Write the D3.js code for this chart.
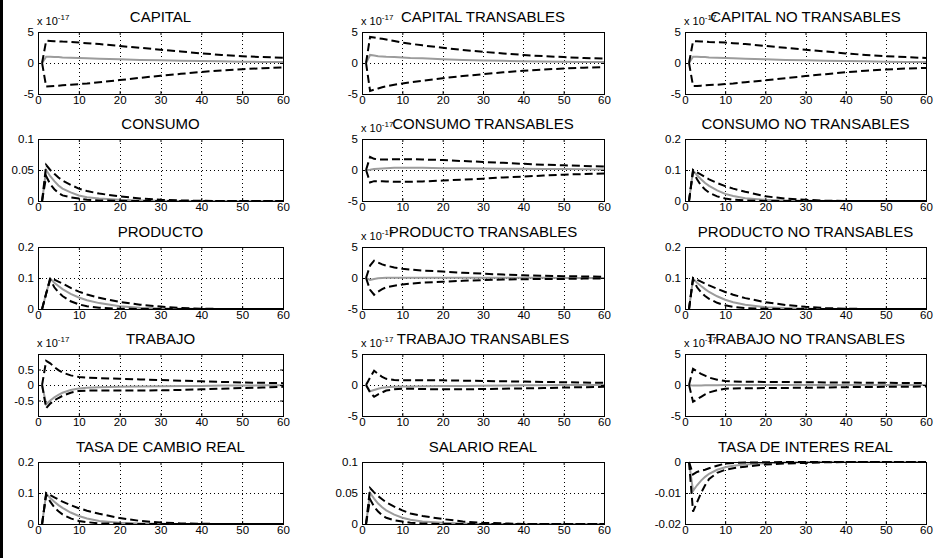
<!DOCTYPE html>
<html>
<head>
<meta charset="utf-8">
<script src="https://cdn.jsdelivr.net/npm/d3@7"></script>
<style>
  body { margin: 0; background: #fff; }
  svg { display: block; }
  text { font-family: "Liberation Sans", Arial, Helvetica, sans-serif; fill: #000; }
</style>
</head>
<body>
<div id="fig"></div>
<script>
// periods (x axis 0..60)
const periods = [1, 2, 3, 4, 5, 6, 8, 10, 12, 15, 20, 25, 30, 35, 40, 45, 50, 55, 60];
const xTicks = [0, 10, 20, 30, 40, 50, 60];

// CAPITAL (x 10^-17)
const capitalUp  = [0, 3.6, 3.55, 3.5, 3.5, 3.45, 3.4, 3.3, 3.2, 3.05, 2.75, 2.45, 2.15, 1.85, 1.55, 1.3, 1.1, 0.95, 0.85];
const capitalMid = [0, 1.0, 1.0, 0.95, 0.95, 0.9, 0.85, 0.8, 0.75, 0.7, 0.6, 0.5, 0.45, 0.38, 0.32, 0.27, 0.22, 0.18, 0.15];
const capitalLow = [0, -3.8, -3.75, -3.7, -3.65, -3.6, -3.5, -3.4, -3.3, -3.1, -2.75, -2.4, -2.05, -1.75, -1.45, -1.2, -1.0, -0.85, -0.7];
// CAPITAL TRANSABLES (x 10^-17)
const capTUp  = [0, 4.2, 4.1, 4.0, 3.9, 3.8, 3.55, 3.3, 3.1, 2.85, 2.45, 2.1, 1.8, 1.55, 1.3, 1.1, 0.95, 0.8, 0.7];
const capTMid = [0, 1.3, 1.2, 1.1, 1.05, 1.0, 0.95, 0.9, 0.8, 0.75, 0.6, 0.5, 0.42, 0.35, 0.3, 0.25, 0.2, 0.17, 0.15];
const capTLow = [0, -4.5, -4.3, -4.1, -3.9, -3.75, -3.5, -3.3, -3.1, -2.85, -2.45, -2.1, -1.8, -1.5, -1.25, -1.05, -0.9, -0.75, -0.65];
// CAPITAL NO TRANSABLES (x 10^-17)
const capNUp  = [0, 3.5, 3.5, 3.45, 3.45, 3.4, 3.35, 3.3, 3.2, 3.05, 2.75, 2.45, 2.15, 1.85, 1.55, 1.3, 1.1, 0.95, 0.8];
const capNMid = [0, 1.0, 1.0, 0.95, 0.95, 0.9, 0.85, 0.8, 0.75, 0.7, 0.6, 0.5, 0.45, 0.38, 0.32, 0.27, 0.22, 0.18, 0.15];
const capNLow = [0, -3.7, -3.7, -3.65, -3.6, -3.55, -3.5, -3.4, -3.3, -3.1, -2.8, -2.45, -2.1, -1.8, -1.5, -1.25, -1.05, -0.9, -0.8];

// CONSUMO
const consUp  = [0, 0.058, 0.05, 0.044, 0.038, 0.033, 0.026, 0.02, 0.016, 0.012, 0.0075, 0.004, 0.002, 0.001, 0.0003, 0, 0, 0, 0];
const consMid = [0, 0.05, 0.04, 0.032, 0.025, 0.02, 0.014, 0.009, 0.006, 0.004, 0.002, 0.001, 0.0004, 0.0001, 0, 0, 0, 0, 0];
const consLow = [0, 0.04, 0.027, 0.019, 0.013, 0.009, 0.006, 0.004, 0.002, 0.001, 0.0003, 0, 0, 0, 0, 0, 0, 0, 0];
// CONSUMO TRANSABLES (x 10^-17)
const consTUp  = [0, 2.1, 1.8, 1.7, 1.7, 1.7, 1.75, 1.75, 1.75, 1.7, 1.6, 1.45, 1.3, 1.15, 1.0, 0.85, 0.75, 0.65, 0.55];
const consTMid = [0, 0.05, 0.15, 0.2, 0.25, 0.3, 0.35, 0.35, 0.35, 0.35, 0.3, 0.28, 0.25, 0.22, 0.2, 0.17, 0.15, 0.12, 0.1];
const consTLow = [0, -2.0, -1.8, -1.8, -1.8, -1.85, -1.9, -1.9, -1.9, -1.85, -1.7, -1.55, -1.4, -1.2, -1.05, -0.9, -0.75, -0.65, -0.55];
// CONSUMO NO TRANSABLES
const consNUp  = [0, 0.1, 0.092, 0.085, 0.077, 0.07, 0.058, 0.048, 0.04, 0.03, 0.015, 0.008, 0.004, 0.001, 0, 0, 0, 0, 0];
const consNMid = [0, 0.098, 0.083, 0.07, 0.058, 0.049, 0.034, 0.023, 0.016, 0.009, 0.004, 0.002, 0.001, 0, 0, 0, 0, 0, 0];
const consNLow = [0, 0.095, 0.07, 0.05, 0.037, 0.027, 0.015, 0.008, 0.004, 0.002, 0, 0, 0, 0, 0, 0, 0, 0, 0];

// PRODUCTO
const prodUp  = [0, 0.05, 0.1, 0.095, 0.088, 0.082, 0.068, 0.056, 0.047, 0.036, 0.023, 0.014, 0.008, 0.003, 0.001, 0, 0, 0, 0];
const prodMid = [0, 0.05, 0.098, 0.085, 0.074, 0.064, 0.049, 0.037, 0.028, 0.019, 0.009, 0.004, 0.002, 0.001, 0, 0, 0, 0, 0];
const prodLow = [0, 0.05, 0.095, 0.07, 0.054, 0.042, 0.025, 0.015, 0.009, 0.004, 0.001, 0, 0, 0, 0, 0, 0, 0, 0];
// PRODUCTO TRANSABLES (x 10^-17)
const prodTUp  = [0, 2.0, 2.8, 2.5, 2.2, 2.0, 1.7, 1.5, 1.35, 1.2, 1.05, 0.85, 0.7, 0.55, 0.45, 0.35, 0.3, 0.25, 0.2];
const prodTMid = [0, -0.3, -0.15, -0.05, 0, 0.05, 0.05, 0.05, 0.05, 0.05, 0.05, 0.05, 0.05, 0.04, 0.03, 0.03, 0.02, 0.02, 0.02];
const prodTLow = [0, -1.9, -2.7, -2.2, -1.8, -1.5, -1.25, -1.05, -0.9, -0.75, -0.6, -0.45, -0.35, -0.25, -0.2, -0.15, -0.15, -0.1, -0.1];
// PRODUCTO NO TRANSABLES
const prodNUp  = [0, 0.1, 0.095, 0.088, 0.082, 0.076, 0.065, 0.055, 0.046, 0.035, 0.022, 0.013, 0.007, 0.003, 0.001, 0, 0, 0, 0];
const prodNMid = [0, 0.098, 0.085, 0.074, 0.064, 0.055, 0.041, 0.03, 0.022, 0.014, 0.006, 0.003, 0.001, 0, 0, 0, 0, 0, 0];
const prodNLow = [0, 0.095, 0.07, 0.054, 0.042, 0.033, 0.02, 0.012, 0.007, 0.003, 0.001, 0, 0, 0, 0, 0, 0, 0, 0];

// TRABAJO (x 10^-17)
const trabUp  = [0, 0.78, 0.7, 0.58, 0.48, 0.4, 0.31, 0.26, 0.24, 0.22, 0.2, 0.18, 0.16, 0.14, 0.12, 0.1, 0.08, 0.07, 0.06];
const trabMid = [0, -0.62, -0.5, -0.4, -0.32, -0.25, -0.16, -0.11, -0.09, -0.07, -0.06, -0.05, -0.04, -0.03, -0.03, -0.02, -0.02, -0.01, -0.01];
const trabLow = [0, -0.75, -0.6, -0.5, -0.42, -0.35, -0.25, -0.19, -0.18, -0.18, -0.18, -0.18, -0.17, -0.16, -0.14, -0.12, -0.1, -0.08, -0.06];
// TRABAJO TRANSABLES (x 10^-17)
const trabTUp  = [0, 1.2, 2.3, 1.8, 1.3, 1.0, 0.8, 0.75, 0.75, 0.75, 0.75, 0.7, 0.65, 0.6, 0.55, 0.5, 0.45, 0.4, 0.35];
const trabTMid = [0, -1.0, -0.8, -0.6, -0.45, -0.35, -0.28, -0.25, -0.23, -0.2, -0.18, -0.15, -0.12, -0.08, -0.05, -0.03, 0, 0, 0];
const trabTLow = [0, -1.2, -1.9, -1.5, -1.2, -0.9, -0.7, -0.6, -0.6, -0.65, -0.7, -0.7, -0.65, -0.6, -0.55, -0.5, -0.4, -0.35, -0.3];
// TRABAJO NO TRANSABLES (x 10^-17)
const trabNUp  = [0, 2.6, 2.2, 1.8, 1.5, 1.2, 0.85, 0.65, 0.55, 0.52, 0.5, 0.47, 0.45, 0.42, 0.4, 0.37, 0.35, 0.32, 0.3];
const trabNMid = [0, -0.1, -0.1, -0.08, -0.06, -0.05, -0.03, -0.02, -0.01, 0, 0, 0, 0, 0, 0, 0, 0, 0, 0];
const trabNLow = [0, -2.7, -2.3, -1.9, -1.5, -1.2, -0.85, -0.6, -0.55, -0.52, -0.5, -0.47, -0.45, -0.4, -0.35, -0.32, -0.3, -0.27, -0.25];

// TASA DE CAMBIO REAL
const tcrUp  = [0, 0.1, 0.093, 0.086, 0.079, 0.072, 0.061, 0.051, 0.043, 0.033, 0.019, 0.01, 0.005, 0.002, 0.001, 0, 0, 0, 0];
const tcrMid = [0, 0.098, 0.084, 0.072, 0.061, 0.052, 0.037, 0.026, 0.018, 0.01, 0.004, 0.002, 0.001, 0, 0, 0, 0, 0, 0];
const tcrLow = [0, 0.095, 0.072, 0.054, 0.041, 0.031, 0.018, 0.01, 0.006, 0.002, 0.001, 0, 0, 0, 0, 0, 0, 0, 0];
// SALARIO REAL
const salUp  = [0, 0.058, 0.051, 0.045, 0.04, 0.035, 0.028, 0.022, 0.017, 0.013, 0.008, 0.004, 0.002, 0.001, 0, 0, 0, 0, 0];
const salMid = [0, 0.05, 0.041, 0.033, 0.027, 0.022, 0.015, 0.01, 0.007, 0.004, 0.002, 0.001, 0, 0, 0, 0, 0, 0, 0];
const salLow = [0, 0.04, 0.028, 0.02, 0.014, 0.01, 0.006, 0.004, 0.002, 0.001, 0, 0, 0, 0, 0, 0, 0, 0, 0];
// TASA DE INTERES REAL
const tirUp  = [0, -0.004, -0.0032, -0.0028, -0.0025, -0.002, -0.0012, -0.0005, -0.0003, -0.0002, -0.0001, 0, 0, 0, 0, 0, 0, 0, 0];
const tirMid = [0, -0.0093, -0.0075, -0.006, -0.0048, -0.0038, -0.0025, -0.0017, -0.0012, -0.0008, -0.0004, -0.0002, -0.0001, 0, 0, 0, 0, 0, 0];
const tirLow = [0, -0.016, -0.013, -0.01, -0.0075, -0.0055, -0.0035, -0.0025, -0.002, -0.0015, -0.0008, -0.0005, -0.0003, -0.0001, 0, 0, 0, 0, 0];

const titles = ["CAPITAL", "CAPITAL TRANSABLES", "CAPITAL NO TRANSABLES",
  "CONSUMO", "CONSUMO TRANSABLES", "CONSUMO NO TRANSABLES",
  "PRODUCTO", "PRODUCTO TRANSABLES", "PRODUCTO NO TRANSABLES",
  "TRABAJO", "TRABAJO TRANSABLES", "TRABAJO NO TRANSABLES",
  "TASA DE CAMBIO REAL", "SALARIO REAL", "TASA DE INTERES REAL"];

// y limits / tick values for each kind of panel
const ticksPm5 = [-5, 0, 5];
const ticks01 = [0, 0.05, 0.1];
const ticks02 = [0, 0.1, 0.2];
const ticksTrab = [-0.5, 0, 0.5];
const ticksTir = [-0.02, -0.01, 0];

const panels = [
  {up: capitalUp, mid: capitalMid, low: capitalLow, dom: [-5, 5], ticks: ticksPm5, exp: true},
  {up: capTUp, mid: capTMid, low: capTLow, dom: [-5, 5], ticks: ticksPm5, exp: true},
  {up: capNUp, mid: capNMid, low: capNLow, dom: [-5, 5], ticks: ticksPm5, exp: true},
  {up: consUp, mid: consMid, low: consLow, dom: [0, 0.1], ticks: ticks01},
  {up: consTUp, mid: consTMid, low: consTLow, dom: [-5, 5], ticks: ticksPm5, exp: true},
  {up: consNUp, mid: consNMid, low: consNLow, dom: [0, 0.2], ticks: ticks02},
  {up: prodUp, mid: prodMid, low: prodLow, dom: [0, 0.2], ticks: ticks02},
  {up: prodTUp, mid: prodTMid, low: prodTLow, dom: [-5, 5], ticks: ticksPm5, exp: true},
  {up: prodNUp, mid: prodNMid, low: prodNLow, dom: [0, 0.2], ticks: ticks02},
  {up: trabUp, mid: trabMid, low: trabLow, dom: [-1, 1], ticks: ticksTrab, exp: true},
  {up: trabTUp, mid: trabTMid, low: trabTLow, dom: [-5, 5], ticks: ticksPm5, exp: true},
  {up: trabNUp, mid: trabNMid, low: trabNLow, dom: [-5, 5], ticks: ticksPm5, exp: true},
  {up: tcrUp, mid: tcrMid, low: tcrLow, dom: [0, 0.2], ticks: ticks02},
  {up: salUp, mid: salMid, low: salLow, dom: [0, 0.1], ticks: ticks01},
  {up: tirUp, mid: tirMid, low: tirLow, dom: [-0.02, 0], ticks: ticksTir}
];

const W = 950, H = 558;
const colX = [38, 362, 685], colW = [245, 242, 241];
const rowY = [32, 139, 247, 354, 462], plotH = 62;

const svg = d3.select("#fig").append("svg")
  .attr("width", W).attr("height", H);

svg.append("rect").attr("width", W).attr("height", H).attr("fill", "#fff");
// thick border line on the left edge of the figure
svg.append("rect").attr("x", 0).attr("y", 0).attr("width", 3).attr("height", H).attr("fill", "#000");

panels.forEach(function(p, i) {
  const col = i % 3, row = Math.floor(i / 3);
  const w = colW[col];
  const g = svg.append("g")
    .attr("transform", "translate(" + colX[col] + "," + rowY[row] + ")");

  const x = d3.scaleLinear().domain([0, 60]).range([0, w]);
  const y = d3.scaleLinear().domain(p.dom).range([plotH, 0]);

  // dotted grid
  const grid = g.append("g").attr("stroke", "#000").attr("stroke-width", 1)
    .attr("stroke-dasharray", "1,3");
  xTicks.slice(1, -1).forEach(function(t) {
    grid.append("line").attr("x1", Math.round(x(t)) + 0.5).attr("x2", Math.round(x(t)) + 0.5)
      .attr("y1", 0).attr("y2", plotH);
  });
  p.ticks.forEach(function(t) {
    if (t === p.dom[0] || t === p.dom[1]) return;
    grid.append("line").attr("y1", Math.round(y(t)) + 0.5).attr("y2", Math.round(y(t)) + 0.5)
      .attr("x1", 0).attr("x2", w);
  });

  // lines
  const pts = function(vals) { return vals.map(function(v, k) { return [periods[k], v]; }); };
  const line = d3.line().x(function(d) { return x(d[0]); }).y(function(d) { return y(d[1]); });

  g.append("path").attr("d", line(pts(p.mid)))
    .attr("fill", "none").attr("stroke", "#9c9c9c").attr("stroke-width", 2);
  [p.up, p.low].forEach(function(s) {
    g.append("path").attr("d", line(pts(s)))
      .attr("fill", "none").attr("stroke", "#000").attr("stroke-width", 2)
      .attr("stroke-dasharray", "8,4");
  });

  // axes, MATLAB style: inward ticks on every side
  const fmt = function(d) { return String(+d.toFixed(4)); };
  const styleAxis = function(a) {
    a.select(".domain").remove();
    a.selectAll("text").attr("font-size", 11.5).attr("font-family", null).attr("fill", "#000");
    a.selectAll("line").attr("stroke", "#000");
  };
  g.append("g").attr("transform", "translate(0," + plotH + ")")
    .call(d3.axisBottom(x).tickValues(xTicks).tickSize(-3).tickPadding(2).tickFormat(fmt))
    .call(styleAxis);
  g.append("g")
    .call(d3.axisTop(x).tickValues(xTicks).tickSize(-3).tickFormat(""))
    .call(styleAxis);
  g.append("g")
    .call(d3.axisLeft(y).tickValues(p.ticks).tickSize(-3).tickPadding(4).tickFormat(fmt))
    .call(styleAxis);
  g.append("g").attr("transform", "translate(" + w + ",0)")
    .call(d3.axisRight(y).tickValues(p.ticks).tickSize(-3).tickFormat(""))
    .call(styleAxis);

  g.append("rect").attr("x", 0.5).attr("y", 0.5).attr("width", w).attr("height", plotH)
    .attr("fill", "none").attr("stroke", "#000").attr("stroke-width", 1);

  // exponent label
  if (p.exp) {
    const e = g.append("text").attr("x", -1).attr("y", -7).attr("font-size", 11);
    e.append("tspan").text("x 10");
    e.append("tspan").attr("dy", -5).attr("font-size", 8).text("-17");
  }

  g.append("text")
    .attr("x", w / 2).attr("y", -10)
    .attr("text-anchor", "middle")
    .attr("font-size", 15)
    .text(titles[i]);
});
</script>
</body>
</html>
